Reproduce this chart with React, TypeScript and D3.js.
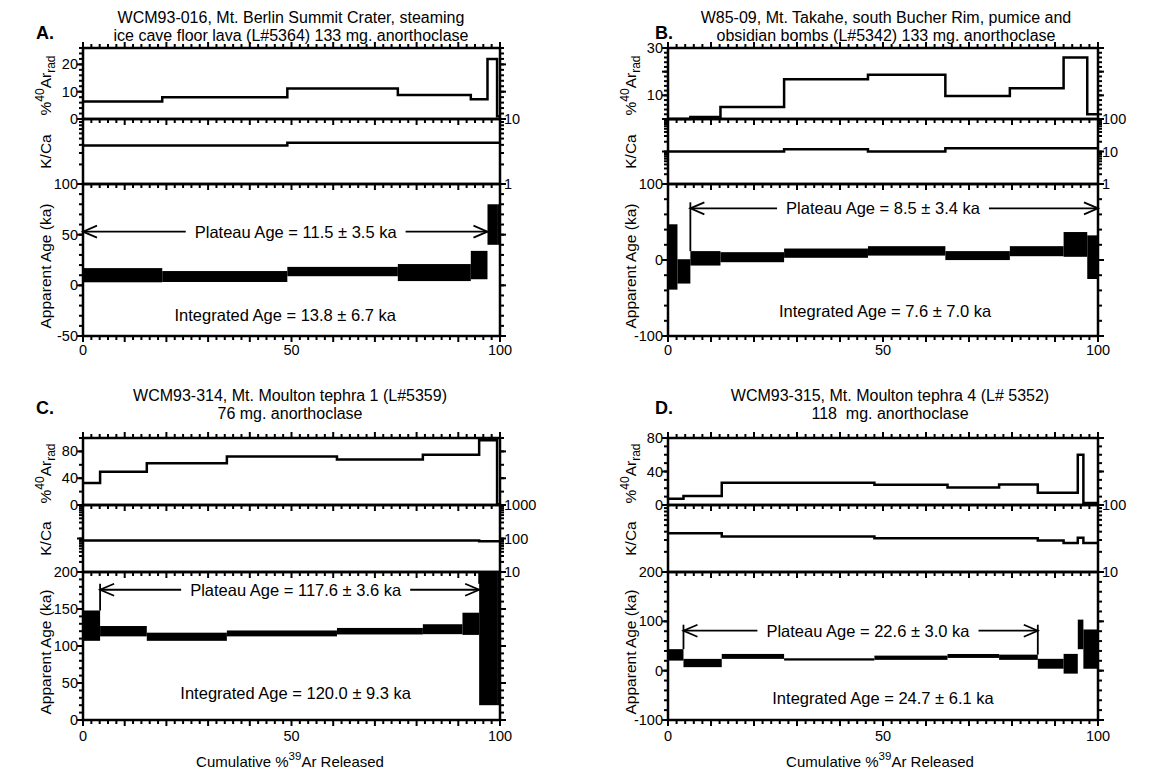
import React, { useRef, useEffect } from 'react'
import * as d3 from 'd3'

const FONT = '"Liberation Sans", Arial, Helvetica, sans-serif'

// A. WCM93-016
const titleA = ['WCM93-016, Mt. Berlin Summit Crater, steaming', 'ice cave floor lava (L#5364) 133 mg. anorthoclase']
const cumA = [0, 19, 49, 75.5, 93, 97, 99.3, 100]
const arA = [6.4, 8, 11.2, 8.8, 7.2, 22, 1]
const kcaA = [3.9, 3.9, 4.3, 4.3, 4.3, 4.3, 4.3]
const ageA = [10, 8.7, 13.6, 12.6, 20, 60, 60]
const errA = [7, 5.4, 4.6, 8.4, 14, 20, 20]
const arLabelsA = [0, 10, 20]
const kcaLabelsA = [1, 10]
const ageLabelsA = [-50, 0, 50, 100]

// B. W85-09
const titleB = ['W85-09, Mt. Takahe, south Bucher Rim, pumice and', 'obsidian bombs (L#5342) 133 mg. anorthoclase']
const cumB = [0, 2.2, 5.2, 12.2, 27, 46.5, 64.5, 79.5, 92, 97.5, 100]
const arB = [0, 0, 0.8, 5.1, 16.8, 18.7, 9.7, 13, 26, 2]
const kcaB = [10, 10, 10, 10, 11.7, 10, 12.6, 12.6, 12.6, 12.6]
const ageB = [4, -15, 2.2, 3.7, 9, 12, 5.8, 11.6, 20.5, 3.7]
const errB = [43, 16, 9.5, 6.6, 6.1, 6.2, 5.9, 6.6, 16.3, 28.7]
const arLabelsB = [10, 30]
const kcaLabelsB = [1, 10, 100]
const ageLabelsB = [-100, 0, 100]

// C. WCM93-314
const titleC = ['WCM93-314, Mt. Moulton tephra 1 (L#5359)', '76 mg. anorthoclase']
const cumC = [0, 4.1, 15.3, 34.5, 60.9, 81.5, 91, 95, 99.3, 100]
const arC = [33, 49.6, 62.3, 72.4, 68, 75, 75, 96.6, 1]
const kcaC = [87, 87, 87, 87, 87, 87, 87, 83, 83]
const ageC = [127.5, 120, 112.5, 117, 120, 122.7, 130, 110, 110]
const errC = [20.5, 7, 5.5, 4, 4.4, 6.7, 15, 90, 90]
const arLabelsC = [0, 40, 80]
const kcaLabelsC = [10, 100, 1000]
const ageLabelsC = [0, 50, 100, 150, 200]

// D. WCM93-315
const titleD = ['WCM93-315, Mt. Moulton tephra 4 (L# 5352)', '118  mg. anorthoclase']
const cumD = [0, 3.6, 12.5, 27, 48, 65, 77, 86, 92, 95.3, 96.6, 100]
const arD = [7.6, 10.7, 26.7, 26.7, 24.3, 20.8, 24.6, 14.5, 14.5, 60, 2.5]
const kcaD = [38, 38, 34, 34, 32, 32, 32, 29.5, 27, 32.5, 27]
const ageD = [32, 15.5, 28.9, 22.8, 26.2, 29.8, 27.2, 14, 14, 73.5, 43.7]
const errD = [11.6, 8.4, 5, 2.3, 4.3, 4, 5.3, 10, 20, 30, 39.8]
const arLabelsD = [0, 40, 80]
const kcaLabelsD = [10, 100]
const ageLabelsD = [-100, 0, 100, 200]

const xLabels = [0, 50, 100]

// vertical layout of the two rows (absolute pixels)
const rowTop = { t1: 23, t2: 41, letterY: 39, arTop: 48, arBot: 119, kBot: 184, ageBot: 336, xLab: 355, xTitle: 0 }
const rowBottom = { t1: 401, t2: 419, letterY: 414, arTop: 438, arBot: 505, kBot: 572, ageBot: 720, xLab: 741, xTitle: 767 }

const panels = [
  {
    letter: 'A.', lx: 36, L: rowTop, x0: 83, x1: 500, titleX: 291, title: titleA,
    cum: cumA, ar: arA, kca: kcaA, age: ageA, err: errA,
    arDomain: [0, 26], arMajor: 10, arMinor: 2, arLabels: arLabelsA,
    kcaDomain: [1, 10], kcaLabels: kcaLabelsA,
    ageDomain: [-50, 100], ageMajor: 50, ageMinor: 10, ageLabels: ageLabelsA,
    plateau: { from: 0, to: 97, age: 53, at: 51, text: 'Plateau Age = 11.5 \u00b1 3.5 ka', tl: false, tr: false },
    integrated: { age: -29, at: 48.5, text: 'Integrated Age = 13.8 \u00b1 6.7 ka' },
    xTitle: false, xTitleX: 0,
  },
  {
    letter: 'B.', lx: 655, L: rowTop, x0: 668, x1: 1098, titleX: 886, title: titleB,
    cum: cumB, ar: arB, kca: kcaB, age: ageB, err: errB,
    arDomain: [0, 30], arMajor: 10, arMinor: 2, arLabels: arLabelsB,
    kcaDomain: [1, 100], kcaLabels: kcaLabelsB,
    ageDomain: [-100, 100], ageMajor: 100, ageMinor: 20, ageLabels: ageLabelsB,
    plateau: { from: 5.2, to: 100, age: 68, at: 50, text: 'Plateau Age = 8.5 \u00b1 3.4 ka', tl: true, tr: false },
    integrated: { age: -67, at: 50.5, text: 'Integrated Age = 7.6 \u00b1 7.0 ka' },
    xTitle: false, xTitleX: 0,
  },
  {
    letter: 'C.', lx: 36, L: rowBottom, x0: 83, x1: 500, titleX: 290, title: titleC,
    cum: cumC, ar: arC, kca: kcaC, age: ageC, err: errC,
    arDomain: [0, 100], arMajor: 40, arMinor: 20, arLabels: arLabelsC,
    kcaDomain: [10, 1000], kcaLabels: kcaLabelsC,
    ageDomain: [0, 200], ageMajor: 50, ageMinor: 10, ageLabels: ageLabelsC,
    plateau: { from: 4.1, to: 95, age: 176, at: 51, text: 'Plateau Age = 117.6 \u00b1 3.6 ka', tl: true, tr: true },
    integrated: { age: 37, at: 51, text: 'Integrated Age = 120.0 \u00b1 9.3 ka' },
    xTitle: true, xTitleX: 290,
  },
  {
    letter: 'D.', lx: 655, L: rowBottom, x0: 668, x1: 1098, titleX: 890, title: titleD,
    cum: cumD, ar: arD, kca: kcaD, age: ageD, err: errD,
    arDomain: [0, 80], arMajor: 40, arMinor: 10, arLabels: arLabelsD,
    kcaDomain: [10, 100], kcaLabels: kcaLabelsD,
    ageDomain: [-100, 200], ageMajor: 100, ageMinor: 20, ageLabels: ageLabelsD,
    plateau: { from: 3.6, to: 86, age: 81, at: 46.5, text: 'Plateau Age = 22.6 \u00b1 3.0 ka', tl: true, tr: true },
    integrated: { age: -55, at: 50, text: 'Integrated Age = 24.7 \u00b1 6.1 ka' },
    xTitle: true, xTitleX: 880,
  },
]

const rangeStep = (a, b, s) => d3.range(Math.ceil(a / s) * s, b + 1e-9, s)

function drawPanel(svg, p) {
  const L = p.L
  const g = svg.append('g')
  const x = d3.scaleLinear().domain([0, 100]).range([p.x0, p.x1])
  const yAr = d3.scaleLinear().domain(p.arDomain).range([L.arBot, L.arTop])
  const yK = d3.scaleLog().domain(p.kcaDomain).range([L.kBot, L.arBot])
  const yAge = d3.scaleLinear().domain(p.ageDomain).range([L.ageBot, L.kBot])

  // heading
  g.append('text').attr('x', p.lx).attr('y', L.letterY)
    .attr('font-size', 18).attr('font-weight', 'bold').text(p.letter)
  p.title.forEach((t, k) => {
    g.append('text').attr('x', p.titleX).attr('y', k ? L.t2 : L.t1)
      .attr('text-anchor', 'middle').attr('font-size', 16)
      .style('white-space', 'pre').text(t)
  })

  // age spectrum boxes
  const steps = p.age.map((a, k) => ({ c0: p.cum[k], c1: p.cum[k + 1], hi: a + p.err[k], lo: a - p.err[k] }))
  g.append('g').selectAll('rect').data(steps).join('rect')
    .attr('x', d => x(d.c0))
    .attr('width', d => x(d.c1) - x(d.c0))
    .attr('y', d => Math.max(yAge(d.hi), L.kBot))
    .attr('height', d => Math.min(yAge(d.lo), L.ageBot) - Math.max(yAge(d.hi), L.kBot))
    .attr('fill', '#000')

  // step lines for %40Ar rad and K/Ca
  const pts = vals => p.cum.map((c, k) => [c, vals[Math.min(k, vals.length - 1)]])
  const line = ys => d3.line().curve(d3.curveStepAfter).x(d => x(d[0])).y(d => ys(d[1]))
  g.append('path').attr('d', line(yAr)(pts(p.ar)))
    .attr('fill', 'none').attr('stroke', '#000').attr('stroke-width', 2.5)
  g.append('path').attr('d', line(yK)(pts(p.kca)))
    .attr('fill', 'none').attr('stroke', '#000').attr('stroke-width', 2.5)

  // frames
  ;[[L.arTop, L.arBot], [L.arBot, L.kBot], [L.kBot, L.ageBot]].forEach(([a, b]) => {
    g.append('rect').attr('x', p.x0).attr('y', a).attr('width', p.x1 - p.x0).attr('height', b - a)
      .attr('fill', 'none').attr('stroke', '#000').attr('stroke-width', 2.5)
  })

  // x ticks on every horizontal border
  const tk = g.append('g').attr('stroke', '#000').attr('stroke-width', 2)
  const xt = d3.range(0, 101, 2)
  ;[[L.arTop, -1], [L.arBot, 1], [L.kBot, 1], [L.ageBot, 1]].forEach(([yy, dir]) => {
    xt.forEach(v => {
      const len = v % 10 === 0 ? 6 : 4
      tk.append('line').attr('x1', x(v)).attr('x2', x(v)).attr('y1', yy).attr('y2', yy + dir * len)
    })
  })

  // y ticks, both sides
  const yTicks = (scale, majors, minors) => {
    minors.forEach(v => {
      const yy = scale(v)
      tk.append('line').attr('x1', p.x0).attr('x2', p.x0 - 4).attr('y1', yy).attr('y2', yy)
      tk.append('line').attr('x1', p.x1).attr('x2', p.x1 + 4).attr('y1', yy).attr('y2', yy)
    })
    majors.forEach(v => {
      const yy = scale(v)
      tk.append('line').attr('x1', p.x0).attr('x2', p.x0 - 6).attr('y1', yy).attr('y2', yy)
      tk.append('line').attr('x1', p.x1).attr('x2', p.x1 + 6).attr('y1', yy).attr('y2', yy)
    })
  }
  const [a0, a1] = p.arDomain
  yTicks(yAr, rangeStep(a0, a1, p.arMajor), rangeStep(a0, a1, p.arMinor))
  const [g0, g1] = p.ageDomain
  yTicks(yAge, rangeStep(g0, g1, p.ageMajor), rangeStep(g0, g1, p.ageMinor))
  const kt = yK.ticks()
  yTicks(yK, kt.filter(v => Math.abs(Math.log10(v) % 1) < 1e-6), kt)

  // tick labels
  const lab = g.append('g').attr('font-size', 14.5)
  p.arLabels.forEach(v => lab.append('text').attr('x', p.x0 - 5).attr('y', yAr(v)).attr('dy', '0.35em')
    .attr('text-anchor', 'end').text(v))
  p.ageLabels.forEach(v => lab.append('text').attr('x', p.x0 - 5).attr('y', yAge(v)).attr('dy', '0.35em')
    .attr('text-anchor', 'end').text(v))
  p.kcaLabels.forEach(v => lab.append('text').attr('x', p.x1 + 4).attr('y', yK(v)).attr('dy', '0.35em')
    .attr('text-anchor', 'start').text(v))
  xLabels.forEach(v => lab.append('text').attr('x', x(v)).attr('y', L.xLab)
    .attr('text-anchor', 'middle').text(v))

  // rotated axis titles
  const lx = p.x0 - 38
  const arT = g.append('text').attr('font-size', 15.5).attr('text-anchor', 'middle')
    .attr('transform', `translate(${lx},${(L.arTop + L.arBot) / 2 + 2}) rotate(-90)`).attr('y', 6)
  arT.append('tspan').text('%')
  arT.append('tspan').attr('dy', -7).attr('font-size', 12).text('40')
  arT.append('tspan').attr('dy', 7).text('Ar')
  arT.append('tspan').attr('dy', 4).attr('font-size', 12).text('rad')
  g.append('text').attr('font-size', 15.5).attr('text-anchor', 'middle')
    .attr('transform', `translate(${lx},${(L.arBot + L.kBot) / 2}) rotate(-90)`).attr('y', 6).text('K/Ca')
  g.append('text').attr('font-size', 15.5).attr('text-anchor', 'middle')
    .attr('transform', `translate(${lx},${(L.kBot + L.ageBot) / 2 + 6}) rotate(-90)`).attr('y', 6)
    .text('Apparent Age (ka)')

  // plateau arrow
  const pl = p.plateau
  const py = yAge(pl.age)
  const xa = x(pl.from)
  const xb = x(pl.to)
  const txt = g.append('text').attr('x', x(pl.at)).attr('y', py + 6).attr('text-anchor', 'middle')
    .attr('font-size', 16.5).text(pl.text)
  const w = txt.node().getComputedTextLength()
  const ag = g.append('g').attr('stroke', '#000').attr('stroke-width', 1.8).attr('fill', 'none')
  ag.append('line').attr('x1', xa).attr('x2', x(pl.at) - w / 2 - 9).attr('y1', py).attr('y2', py)
  ag.append('line').attr('x1', x(pl.at) + w / 2 + 9).attr('x2', xb).attr('y1', py).attr('y2', py)
  ag.append('path').attr('d', `M${xa + 14},${py - 6}L${xa},${py}L${xa + 14},${py + 6}`)
  ag.append('path').attr('d', `M${xb - 14},${py - 6}L${xb},${py}L${xb - 14},${py + 6}`)
  const boxTop = c => {
    const k = p.cum.indexOf(c)
    return d3.max([k - 1, k].filter(j => j >= 0 && j < steps.length), j => steps[j].hi)
  }
  if (pl.tl) ag.append('line').attr('x1', xa).attr('x2', xa).attr('y1', py - 6).attr('y2', yAge(boxTop(pl.from)))
  if (pl.tr) ag.append('line').attr('x1', xb).attr('x2', xb).attr('y1', py - 6).attr('y2', yAge(boxTop(pl.to)))

  // integrated age
  g.append('text').attr('x', x(p.integrated.at)).attr('y', yAge(p.integrated.age) + 6)
    .attr('text-anchor', 'middle').attr('font-size', 16.5).text(p.integrated.text)

  // x axis title
  if (p.xTitle) {
    const t = g.append('text').attr('x', p.xTitleX).attr('y', L.xTitle).attr('text-anchor', 'middle')
      .attr('font-size', 15)
    t.append('tspan').text('Cumulative %')
    t.append('tspan').attr('dy', -7).attr('font-size', 11.5).text('39')
    t.append('tspan').attr('dy', 7).text('Ar Released')
  }
}

const App = () => {
  const svgRef = useRef(null)

  useEffect(() => {
    const svg = d3.select(svgRef.current)
    svg.selectAll('*').remove()
    panels.forEach(p => drawPanel(svg, p))
  }, [])

  return (
    <svg ref={svgRef} width={1153} height={774}
      style={{ position: 'absolute', left: 0, top: 0, background: '#fff', fontFamily: FONT }} />
  )
}

export default App
